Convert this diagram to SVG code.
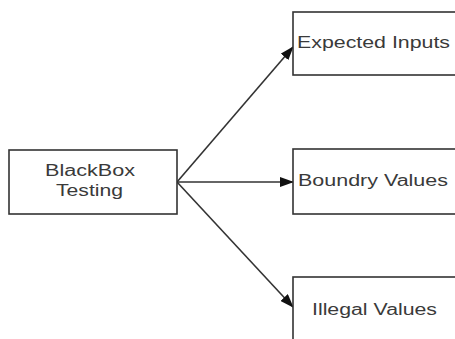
<svg xmlns="http://www.w3.org/2000/svg" width="455" height="339" viewBox="0 0 455 339">
<style>
.box{fill:#fff;stroke:#333;stroke-width:1.6}
.t{font-family:"Liberation Sans",Arial,sans-serif;font-size:16px;fill:#3a3a3a}
.c{fill:none;stroke:#333;stroke-width:1.6}
</style>
<defs>
<marker id="ah" markerWidth="14" markerHeight="10" refX="13" refY="5" orient="auto" markerUnits="userSpaceOnUse">
<path d="M0,0 L14,5 L0,10 Z" fill="#111"/>
</marker>
</defs>
<rect width="455" height="339" fill="#fff"/>
<g id="connectors">
<line class="c" x1="177" y1="182" x2="293" y2="47" marker-end="url(#ah)"/>
<line class="c" x1="177" y1="182" x2="293" y2="182" marker-end="url(#ah)"/>
<line class="c" x1="177" y1="182" x2="293" y2="307" marker-end="url(#ah)"/>
</g>
<g id="blackbox">
<rect class="box" x="9" y="150" width="168" height="64"/>
<text class="t" x="45" y="176" textLength="90" lengthAdjust="spacingAndGlyphs">BlackBox</text>
<text class="t" x="56" y="196" textLength="67" lengthAdjust="spacingAndGlyphs">Testing</text>
</g>
<g id="expected">
<rect class="box" x="293" y="12" width="170" height="63"/>
<text class="t" x="297" y="48" textLength="153" lengthAdjust="spacingAndGlyphs">Expected Inputs</text>
</g>
<g id="boundry">
<rect class="box" x="293" y="149" width="170" height="65"/>
<text class="t" x="298" y="186" textLength="150" lengthAdjust="spacingAndGlyphs">Boundry Values</text>
</g>
<g id="illegal">
<rect class="box" x="293" y="277" width="170" height="70"/>
<text class="t" x="312" y="315" textLength="125" lengthAdjust="spacingAndGlyphs">Illegal Values</text>
</g>
</svg>
